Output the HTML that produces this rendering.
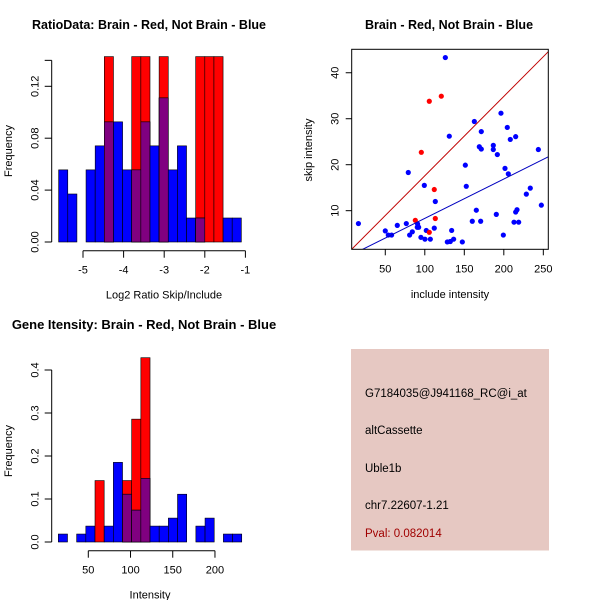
<!DOCTYPE html>
<html><head><meta charset="utf-8"><style>
body{margin:0;background:#fff}
svg{display:block;font-family:"Liberation Sans",sans-serif}
</style></head><body>
<svg id="root" width="600" height="600" viewBox="0 0 600 600" xmlns="http://www.w3.org/2000/svg">
<rect width="600" height="600" fill="#fff"/>
<g id="p1"></g>
<g id="p2"></g>
<g id="p3"></g>
<g>
<rect x="351" y="349" width="198" height="201.5" fill="#e6c8c2"/>
<g font-size="11.5" fill="#000">
<text x="365" y="397">G7184035@J941168_RC@i_at</text>
<text x="365" y="434">altCassette</text>
<text x="365" y="472">Uble1b</text>
<text x="365" y="509">chr7.22607-1.21</text>
<text x="365" y="537" fill="#a00000">Pval: 0.082014</text>
</g></g>
</svg>
<script>
// ---- Ratio histogram data ----
const ratioBreakStart = -5.6;
const ratioBinWidth = 0.225;
const ratioBlue = [0.0556,0.037,0,0.0556,0.0741,0.0926,0.0926,0.0556,0.0556,0.0926,0.0741,0.1111,0.0556,0.0741,0.0185,0.0185,0,0,0.0185,0.0185];
const ratioRed = [0,0,0,0,0,0.1429,0,0,0.1429,0.1429,0,0.1429,0,0,0,0.1429,0.1429,0.1429,0,0];
const ratioXTicks = [-5,-4,-3,-2,-1];
const ratioYTicks = [0,0.04,0.08,0.12];
const ratioYTickLabels = ["0.00","0.04","0.08","0.12"];
// ---- Intensity histogram data ----
const intBreakStart = 14.5;
const intBinWidth = 10.86;
const intBlue = [0.0185,0,0.0185,0.037,0,0.037,0.1852,0.1111,0.0741,0.1481,0.037,0.037,0.0556,0.1111,0,0.037,0.0556,0,0.0185,0.0185];
const intRed = [0,0,0,0,0.1429,0,0,0.1429,0.2857,0.4286,0,0,0,0,0,0,0,0,0,0];
const intXTicks = [50,100,150,200];
const intYTicks = [0,0.1,0.2,0.3,0.4];
const intYTickLabels = ["0.0","0.1","0.2","0.3","0.4"];
// ---- Scatter data ----
const blueX = [16,126,162.7,196.4,204.4,171.5,208.2,215,131,186.7,169,171.5,186.7,191.8,243.7,79.1,151.3,201.5,205.7,99.4,152.5,233.5,228.5,247.5,113.3,165.2,190.5,215,216.7,212.9,218.8,160.1,170.7,50,53.8,58,65.2,76.6,80.8,84.2,90.9,92.2,90.5,95.1,100.2,101.9,107,112,134,128.5,132.3,136.5,147.5,199.4];
const blueY = [7.2,43.3,29.4,31.2,28.1,27.2,25.5,26.1,26.2,24.2,23.9,23.4,23.3,22.2,23.3,18.3,19.9,19.2,18.0,15.5,15.3,14.9,13.6,11.2,12.0,10.1,9.2,9.7,10.2,7.5,7.5,7.7,7.7,5.6,4.7,4.7,6.8,7.2,4.7,5.4,7.1,6.4,6.4,4.2,3.8,5.7,3.8,6.2,5.7,3.2,3.3,3.8,3.2,4.7];
const redX = [105.7,120.9,95.6,112,88,113.3,105.7];
const redY = [33.8,34.9,22.7,14.6,7.9,8.3,5.3];
const redLine = [0.32,0.1727];   // intercept, slope
const blueLine = [-0.23,0.0856];
const scatterXTicks = [50,100,150,200,250];
const scatterYTicks = [10,20,30,40];

const NS="http://www.w3.org/2000/svg";
function mk(parent,tag,attrs,text){const e=document.createElementNS(NS,tag);for(const k in attrs)e.setAttribute(k,attrs[k]);if(text!==undefined)e.textContent=text;parent.appendChild(e);return e;}

function histogram(g,o){
  const sx=v=>o.x0px+(v-o.x0)*o.kx, sy=v=>o.y0px-v*o.ky;
  const n=o.blue.length;
  for(let i=0;i<n;i++){
    const l=sx(o.bs+i*o.bw), r=sx(o.bs+(i+1)*o.bw);
    const b=o.blue[i], rd=o.red[i];
    if(rd>0){const e=mk(g,'rect',{x:l,y:sy(rd),width:r-l,height:sy(0)-sy(rd),fill:'#ff0000',stroke:'#000','stroke-width':0.6});
      
      }
    if(b>0){const e=mk(g,'rect',{x:l,y:sy(b),width:r-l,height:sy(0)-sy(b),fill:'#0000ff',stroke:'#000','stroke-width':0.6});
      
      }
    const m=Math.min(b,rd);
    if(m>0){const e=mk(g,'rect',{x:l,y:sy(m),width:r-l,height:sy(0)-sy(m),fill:'#800080',stroke:'#000','stroke-width':0.6});
      
      }
  }
  const ya=mk(g,'g',{});
  
  
  const yt=o.yTicks;
  mk(ya,'line',{x1:o.yAxisX,x2:o.yAxisX,y1:sy(yt[0]),y2:sy(o.yTop),stroke:'#000'});
  const yv=o.yTicks.concat([o.yTop]);
  yv.forEach(v=>mk(ya,'line',{x1:o.yAxisX-7,x2:o.yAxisX,y1:sy(v),y2:sy(v),stroke:'#000'}));
  o.yTicks.forEach((v,i)=>{const t=mk(ya,'text',{x:0,y:0,'font-size':11,'text-anchor':'middle',transform:`translate(${o.yAxisX-13},${sy(v)}) rotate(-90)`},o.yLabels[i]);
    
    });
  const xa=mk(g,'g',{});
  
  
  const xt=o.xTicks;
  mk(xa,'line',{x1:sx(xt[0]),x2:sx(xt[xt.length-1]),y1:o.xAxisY,y2:o.xAxisY,stroke:'#000'});
  xt.forEach(v=>{mk(xa,'line',{x1:sx(v),x2:sx(v),y1:o.xAxisY,y2:o.xAxisY+7,stroke:'#000'});
    const t=mk(xa,'text',{x:sx(v),y:o.xAxisY+23,'font-size':11,'text-anchor':'middle'},String(v));
    
    });
  const xl=mk(g,'text',{x:o.xlabX,y:o.xAxisY+48,'font-size':11,'text-anchor':'middle'},o.xlab);
  
  
  const yl=mk(g,'text',{x:0,y:0,'font-size':11,'text-anchor':'middle',transform:`translate(12,${o.ylabY}) rotate(-90)`},'Frequency');
  
  
  const ti=mk(g,'text',{x:o.titleX,y:o.titleY,'font-size':o.titleSize,'font-weight':'bold','text-anchor':'middle'},o.title);
  
  
}

histogram(document.getElementById('p1'),{x0:-5,x0px:83,kx:40.6,y0px:242,ky:1297.5,bs:ratioBreakStart,bw:ratioBinWidth,blue:ratioBlue,red:ratioRed,
  yTicks:ratioYTicks,yLabels:ratioYTickLabels,yTop:0.14,yAxisX:51.7,xTicks:ratioXTicks,xAxisY:250.7,xlab:'Log2 Ratio Skip/Include',xlabX:164,ylabY:151,
  title:'RatioData: Brain - Red, Not Brain - Blue',titleX:149,titleY:29,titleSize:12.5});
histogram(document.getElementById('p3'),{x0:50,x0px:88.3,kx:0.8444,y0px:542,ky:430,bs:intBreakStart,bw:intBinWidth,blue:intBlue,red:intRed,
  yTicks:intYTicks,yLabels:intYTickLabels,yTop:0.4,yAxisX:51.7,xTicks:intXTicks,xAxisY:550.7,xlab:'Intensity',xlabX:150,ylabY:451,
  title:'Gene Itensity: Brain - Red, Not Brain - Blue',titleX:144,titleY:329,titleSize:13});

(function(){
  const g=document.getElementById('p2');
  const L=351.7,R=548.3,T=49.3,B=249.3;
  const xmin=7.5,xmax=256.3,ymin=1.6,ymax=45.1;
  const sx=v=>L+(v-xmin)/(xmax-xmin)*(R-L), sy=v=>B-(v-ymin)/(ymax-ymin)*(B-T);
  mk(g,'clipPath',{id:'sc'}).appendChild(document.createElementNS(NS,'rect'));
  const cr=g.querySelector('#sc rect');cr.setAttribute('x',L);cr.setAttribute('y',T);cr.setAttribute('width',R-L);cr.setAttribute('height',B-T);
  blueX.forEach((x,i)=>{const c=mk(g,'circle',{cx:sx(x),cy:sy(blueY[i]),r:2.6,fill:'#0000ff'});
    
    });
  redX.forEach((x,i)=>{const c=mk(g,'circle',{cx:sx(x),cy:sy(redY[i]),r:2.6,fill:'#ff0000'});
    
    });
  [[redLine,'#c00000','red-fit-line'],[blueLine,'#0000c0','blue-fit-line']].forEach(([ln,col,nm])=>{
    const e=mk(g,'line',{x1:sx(xmin),y1:sy(ln[0]+ln[1]*xmin),x2:sx(xmax),y2:sy(ln[0]+ln[1]*xmax),stroke:col,'stroke-width':1,'clip-path':'url(#sc)'});
    
    });
  const box=mk(g,'rect',{x:L,y:T,width:R-L,height:B-T,fill:'none',stroke:'#000'});
  
  
  scatterXTicks.forEach(v=>{mk(g,'line',{x1:sx(v),x2:sx(v),y1:B,y2:B+6,stroke:'#000'});
    const t=mk(g,'text',{x:sx(v),y:B+23,'font-size':11,'text-anchor':'middle'},String(v));
    
    });
  scatterYTicks.forEach(v=>{mk(g,'line',{x1:L-6,x2:L,y1:sy(v),y2:sy(v),stroke:'#000'});
    const t=mk(g,'text',{x:0,y:0,'font-size':11,'text-anchor':'middle',transform:`translate(${L-13},${sy(v)}) rotate(-90)`},String(v));
    
    });
  const xl=mk(g,'text',{x:450,y:298,'font-size':11,'text-anchor':'middle'},'include intensity');
  
  
  const yl=mk(g,'text',{x:0,y:0,'font-size':11,'text-anchor':'middle',transform:'translate(312,150) rotate(-90)'},'skip intensity');
  
  
  const ti=mk(g,'text',{x:449,y:29,'font-size':12.5,'font-weight':'bold','text-anchor':'middle'},'Brain - Red, Not Brain - Blue');
  
  
})();
</script>
</body></html>
